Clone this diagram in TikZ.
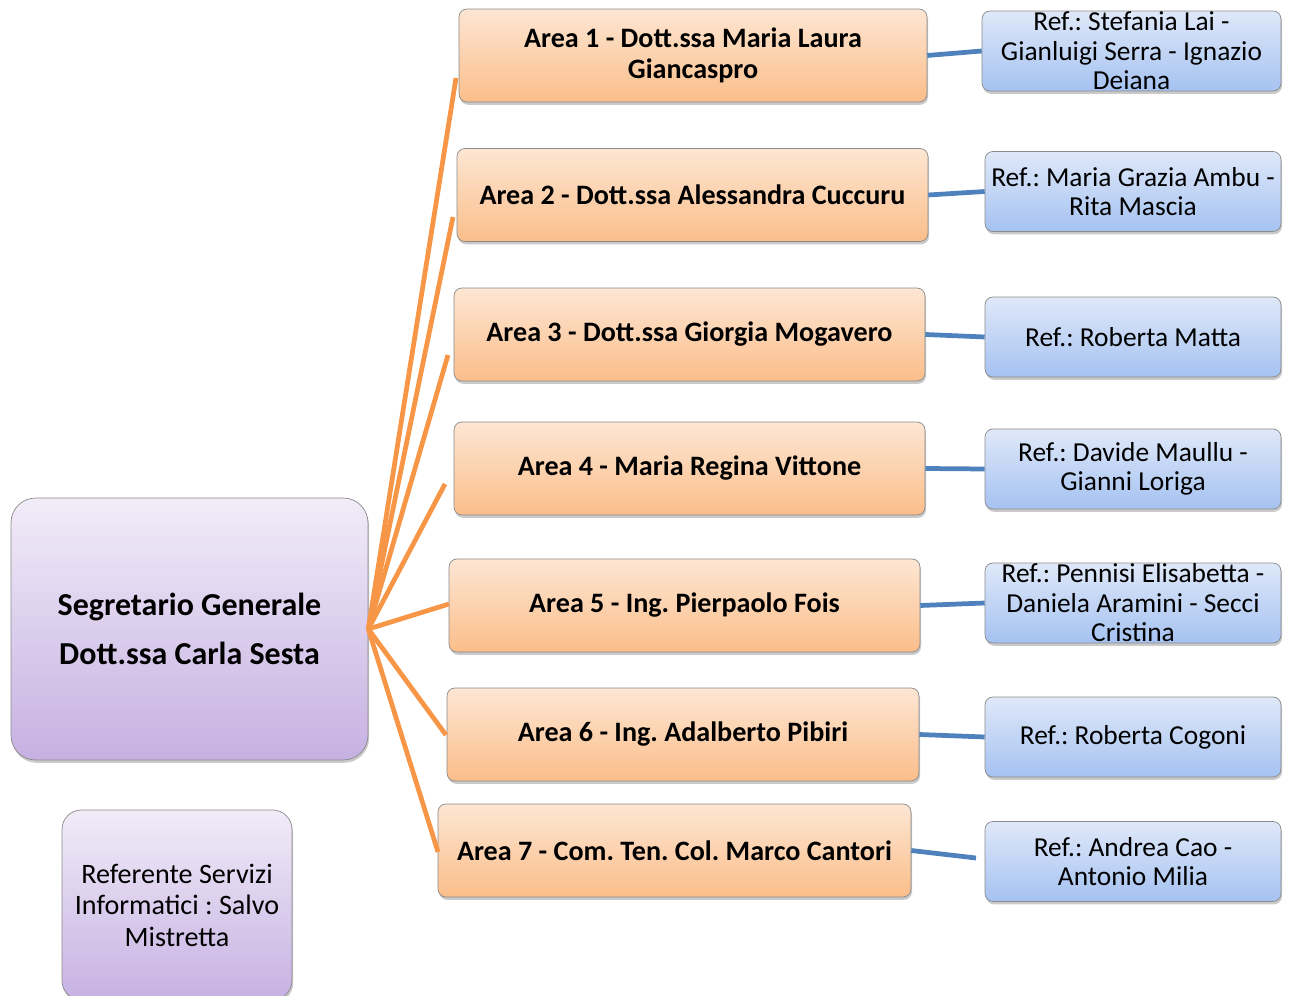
\documentclass[tikz,border=0pt]{standalone}
\usepackage{fontspec}
\setmainfont{Carlito}
\frenchspacing
\usetikzlibrary{shadows,calc}

\definecolor{orline}{HTML}{F79646}
\definecolor{blline}{HTML}{4F81BD}
\definecolor{boxgray}{HTML}{8A8A8A}
\definecolor{ortop}{HTML}{FDE6D3}
\definecolor{orbot}{HTML}{FBBE8A}
\definecolor{bltop}{HTML}{DFE8F9}
\definecolor{blbot}{HTML}{A5C2F1}
\definecolor{vitop}{HTML}{F1ECF8}
\definecolor{vibot}{HTML}{C6B1E2}

\tikzset{
  boxshadow/.style={drop shadow={shadow xshift=0.6pt, shadow yshift=-1.6pt, opacity=0.35, fill=black!60}},
  areabox/.style={draw=boxgray, rounded corners=4.5pt, top color=ortop, bottom color=orbot,
    align=center, inner sep=0pt, boxshadow, minimum height=1.86cm,
    font=\bfseries\fontsize{16}{17.6}\selectfont},
  refbox/.style={draw=boxgray, rounded corners=4.5pt, top color=bltop, bottom color=blbot,
    align=center, inner sep=0pt, boxshadow, minimum width=5.92cm, minimum height=1.6cm,
    font=\fontsize{15.6}{16.8}\selectfont},
  capobox/.style={draw=boxgray, top color=vitop, bottom color=vibot,
    align=center, inner sep=0pt, boxshadow},
  ramo/.style={orline, line width=2.7pt},
  filo/.style={blline, line width=2.7pt}
}

\begin{document}
\begin{tikzpicture}[x=0.02cm, y=-0.02cm]
\useasboundingbox (0,0) rectangle (1291,996);

% capo e referente
\node[capobox, rounded corners=14pt, minimum width=7.14cm, minimum height=5.24cm,
  font=\bfseries\fontsize{18.2}{27.8}\selectfont] (sg) at (189.5,629)
  {Segretario Generale\\Dott.ssa Carla Sesta};
\node[capobox, rounded corners=11pt, minimum width=4.6cm, minimum height=3.8cm,
  font=\fontsize{16}{17.9}\selectfont] (rsi) at (177,905)
  {Referente Servizi\\Informatici : Salvo\\Mistretta};

% aree
\node[areabox, minimum width=9.36cm] (a1) at (693,55.5) {Area 1 - Dott.ssa Maria Laura\\Giancaspro};
\node[areabox, minimum width=9.42cm] (a2) at (692.5,195) {Area 2 - Dott.ssa Alessandra Cuccuru};
\node[areabox, minimum width=9.42cm] (a3) at (689.5,334.5) {Area 3 - Dott.ssa Giorgia Mogavero};
\node[areabox, minimum width=9.42cm] (a4) at (689.5,468.5) {Area 4 - Maria Regina Vittone};
\node[areabox, minimum width=9.42cm] (a5) at (684.5,605.5) {Area 5 - Ing. Pierpaolo Fois};
\node[areabox, minimum width=9.44cm] (a6) at (683,734.5) {Area 6 - Ing. Adalberto Pibiri};
\node[areabox, minimum width=9.46cm] (a7) at (674.5,850.5) {Area 7 - Com. Ten. Col. Marco Cantori};

% referenti
\node[refbox, minimum width=5.98cm] (r1) at (1131.5,51) {Ref.: Stefania Lai -\\Gianluigi Serra - Ignazio\\Deiana};
\node[refbox] (r2) at (1133,191.5) {Ref.: Maria Grazia Ambu -\\Rita Mascia};
\node[refbox] (r3) at (1133,337) {Ref.: Roberta Matta};
\node[refbox] (r4) at (1133,469) {Ref.: Davide Maullu -\\Gianni Loriga};
\node[refbox] (r5) at (1133,603) {Ref.: Pennisi Elisabetta -\\Daniela Aramini - Secci\\Cristina};
\node[refbox] (r6) at (1133,737) {Ref.: Roberta Cogoni};
\node[refbox] (r7) at (1133,861.5) {Ref.: Andrea Cao -\\Antonio Milia};

% estremi dei rami
\coordinate (e1) at (456,78);
\coordinate (e2) at (453,217);
\coordinate (e3) at (448,355);
\coordinate (e4) at (445,484);
\coordinate (e5) at (449,604);
\coordinate (e6) at (446,735);
\coordinate (e7) at (438,852);
\coordinate (f7) at (976,858);

\foreach \i in {1,...,7}
  \draw[ramo] (sg.east) -- (e\i);

\foreach \i in {1,...,6}
  \draw[filo] (a\i.east) -- (r\i.west);
\draw[filo] (a7.east) -- (f7);
\end{tikzpicture}
\end{document}
